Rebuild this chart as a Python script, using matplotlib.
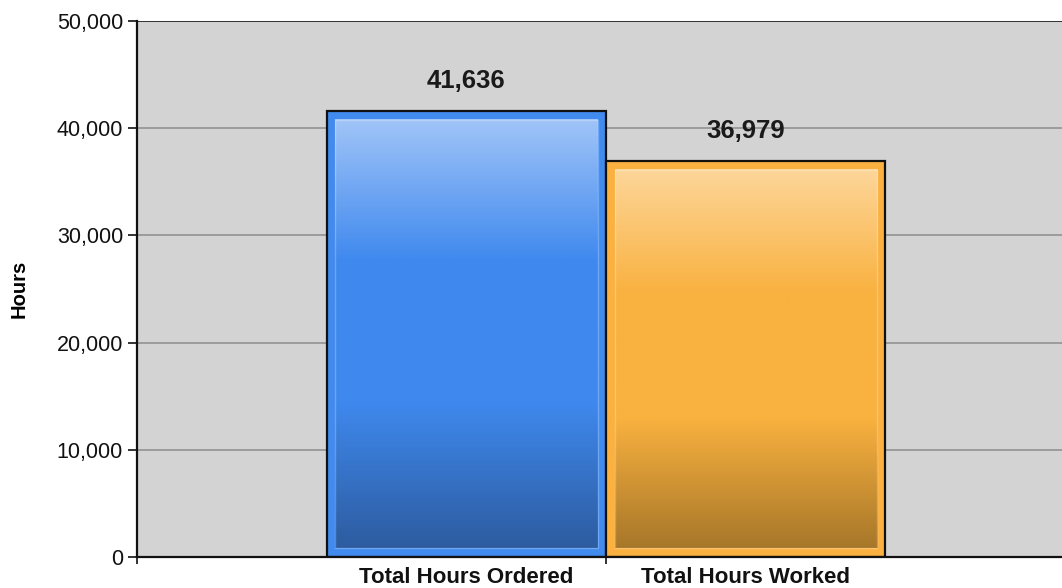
#!/usr/bin/env python3
"""Hours ordered vs worked — gradient bar chart."""
import numpy as np
import matplotlib
matplotlib.use("Agg")
import matplotlib.pyplot as plt
from matplotlib.colors import LinearSegmentedColormap
from matplotlib.ticker import FuncFormatter

# --- data ---
categories = ["Total Hours Ordered", "Total Hours Worked"]
hours = [41636, 36979]

# --- styles: border colour + inner gradient (top, mid, mid, bottom) ---
BORDER = ["#418AEE", "#FBB140"]
GRAD = [
    ["#A0C4F8", "#3F89EE", "#3F89EE", "#2D5CA0"],
    ["#FDD699", "#F9B13F", "#F9B13F", "#A77729"],
]
GRAD_POS = [0.0, 0.33, 0.66, 1.0]

plt.rcParams["font.family"] = ["Liberation Sans", "DejaVu Sans"]

W, H, DPI = 1062, 588, 100
fig = plt.figure(figsize=(W / DPI, H / DPI), dpi=DPI)
# axes runs past the right edge of the image, like the original
left, right, top, bottom = 137, 1075, 21, 557
ax = fig.add_axes([left / W, 1 - bottom / H, (right - left) / W, (bottom - top) / H])
ax.set_facecolor("#D3D3D3")

x = np.arange(len(categories))
xlim = (-1.18, 2.18)
ylim = (0, 50000)
ax.set_xlim(*xlim)
ax.set_ylim(*ylim)

# pixel -> data sizes for the inner inset
px_x = (xlim[1] - xlim[0]) / (right - left)
px_y = (ylim[1] - ylim[0]) / (bottom - top)
inset_x, inset_y = 8.5 * px_x, 9 * px_y

ax.set_axisbelow(True)
ax.yaxis.grid(True, color="#8C8C8C", lw=1.1)

bars = ax.bar(x, hours, width=1.0, color=BORDER, edgecolor="#111111",
              linewidth=1.6, zorder=2)

for i, (xi, h) in enumerate(zip(x, hours)):
    cmap = LinearSegmentedColormap.from_list(
        f"g{i}", list(zip(GRAD_POS, GRAD[i])))
    grad = np.linspace(0, 1, 256).reshape(-1, 1)
    x0, x1 = xi - 0.5 + inset_x, xi + 0.5 - inset_x
    y0, y1 = inset_y, h - inset_y
    # row 0 (light) at the top
    ax.imshow(grad, cmap=cmap, aspect="auto", extent=[x0, x1, y0, y1],
              origin="upper", zorder=3, interpolation="bilinear")
    ax.add_patch(plt.Rectangle((x0, y0), x1 - x0, y1 - y0,
                               fill=False, edgecolor="white", alpha=0.25,
                               lw=1.0, zorder=4))
    ax.annotate(f"{h:,}", (xi, h), xytext=(0, 21), textcoords="offset points",
                ha="center", va="center", fontsize=18.5, fontweight="bold",
                color="#1A1A1A", zorder=5)

ax.set_xlim(*xlim)
ax.set_ylim(*ylim)

# axes / ticks
for s in ("top", "right"):
    ax.spines[s].set_visible(False)
for s in ("left", "bottom"):
    ax.spines[s].set_color("#111111")
    ax.spines[s].set_linewidth(1.6)
    ax.spines[s].set_zorder(6)
ax.axhline(50000, color="#333333", lw=1.4, zorder=1)

ax.set_yticks(np.arange(0, 50001, 10000))
ax.yaxis.set_major_formatter(FuncFormatter(lambda v, p: f"{int(v):,}"))
ax.tick_params(axis="y", length=6.5, width=1.2, pad=3.5, labelsize=15.5,
               colors="#111111")

ax.set_xticks(x)
ax.set_xticklabels(categories, fontsize=16, fontweight="bold")
ax.set_xticks([xlim[0], 0.5], minor=True)
ax.tick_params(axis="x", which="major", length=0, pad=7.5, colors="#111111")
ax.tick_params(axis="x", which="minor", length=5, width=1.2, colors="#111111")

ax.set_ylabel("Hours", fontsize=14.5, fontweight="bold")
ax.yaxis.set_label_coords((29 - left) / (right - left), 0.5)

fig.savefig("out.png", dpi=DPI)
